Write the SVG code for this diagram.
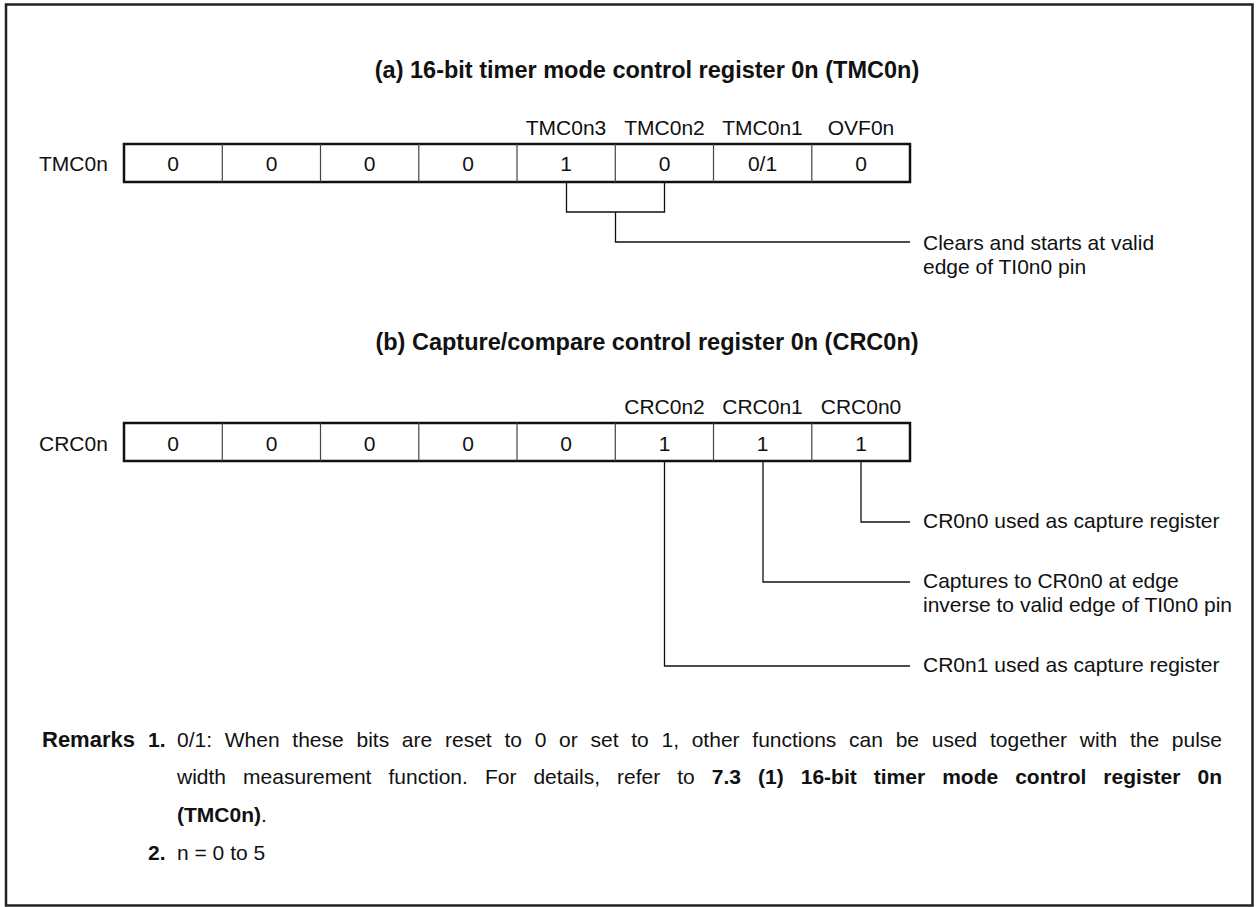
<svg xmlns="http://www.w3.org/2000/svg" width="1256" height="907" viewBox="0 0 1256 907">
<style>
text{font-family:"Liberation Sans",Arial,sans-serif;font-size:21px;fill:#111}
.b{font-weight:bold}
.t{font-weight:bold;font-size:23.5px;text-anchor:middle}
.c{text-anchor:middle}
.reg{fill:#fff;stroke:#111;stroke-width:2.5}
.div{stroke:#444;stroke-width:1.2}
.ln{fill:none;stroke:#111;stroke-width:1.3}
</style>
<rect x="6" y="4.5" width="1246.5" height="901" fill="#fff" stroke="#222" stroke-width="2.5"/>

<g id="titleA"><text class="t" x="647" y="78">(a)  16-bit timer mode control register 0n (TMC0n)</text></g>

<g id="TMC0n">
<text x="39" y="171">TMC0n</text>
<rect class="reg" x="124" y="144" width="786" height="38"/>
<path class="div" d="M222.3 144V182M320.5 144V182M418.8 144V182M517 144V182M615.3 144V182M713.5 144V182M811.8 144V182"/>
<text class="c" x="566" y="135">TMC0n3</text>
<text class="c" x="664.5" y="135">TMC0n2</text>
<text class="c" x="762.5" y="135">TMC0n1</text>
<text class="c" x="861" y="135">OVF0n</text>
<text class="c" x="173" y="171">0</text>
<text class="c" x="271.5" y="171">0</text>
<text class="c" x="369.5" y="171">0</text>
<text class="c" x="468" y="171">0</text>
<text class="c" x="566" y="171">1</text>
<text class="c" x="664.5" y="171">0</text>
<text class="c" x="762.5" y="171">0/1</text>
<text class="c" x="861" y="171">0</text>
</g>

<g id="noteA">
<text x="923" y="250">Clears and starts at valid</text>
<text x="923" y="274">edge of TI0n0 pin</text>
</g>

<g id="titleB"><text class="t" x="647" y="350">(b)  Capture/compare control register 0n (CRC0n)</text></g>

<g id="CRC0n">
<text x="39" y="451">CRC0n</text>
<rect class="reg" x="124" y="423" width="786" height="38"/>
<path class="div" d="M222.3 423V461M320.5 423V461M418.8 423V461M517 423V461M615.3 423V461M713.5 423V461M811.8 423V461"/>
<text class="c" x="664.5" y="414">CRC0n2</text>
<text class="c" x="762.5" y="414">CRC0n1</text>
<text class="c" x="861" y="414">CRC0n0</text>
<text class="c" x="173" y="451">0</text>
<text class="c" x="271.5" y="451">0</text>
<text class="c" x="369.5" y="451">0</text>
<text class="c" x="468" y="451">0</text>
<text class="c" x="566" y="451">0</text>
<text class="c" x="664.5" y="451">1</text>
<text class="c" x="762.5" y="451">1</text>
<text class="c" x="861" y="451">1</text>
</g>

<g id="notesB">
<text x="923" y="528">CR0n0 used as capture register</text>
<text x="923" y="588">Captures to CR0n0 at edge</text>
<text x="923" y="612">inverse to valid edge of TI0n0 pin</text>
<text x="923" y="672">CR0n1 used as capture register</text>
</g>

<g id="connectors">
<path class="ln" d="M566.5 182V212H664.5V182"/>
<path class="ln" d="M615.5 212V242H910"/>
<path class="ln" d="M861 461V522H910"/>
<path class="ln" d="M763 461V582H910"/>
<path class="ln" d="M664.5 461V666H910"/>
</g>

<g id="remarks">
<text class="b" x="42" y="747" style="font-size:22px">Remarks</text>
<text class="b" x="148" y="747">1.</text>
<text x="177" y="747" style="word-spacing:6.9px">0/1: When these bits are reset to 0 or set to 1, other functions can be used together with the pulse</text>
<text x="177" y="784" style="word-spacing:11.2px">width measurement function. For details, refer to <tspan class="b">7.3 (1) 16-bit timer mode control register 0n</tspan></text>
<text x="177" y="822"><tspan class="b">(TMC0n)</tspan>.</text>
<text class="b" x="148" y="860">2.</text>
<text x="177" y="860">n = 0 to 5</text>
</g>
</svg>
